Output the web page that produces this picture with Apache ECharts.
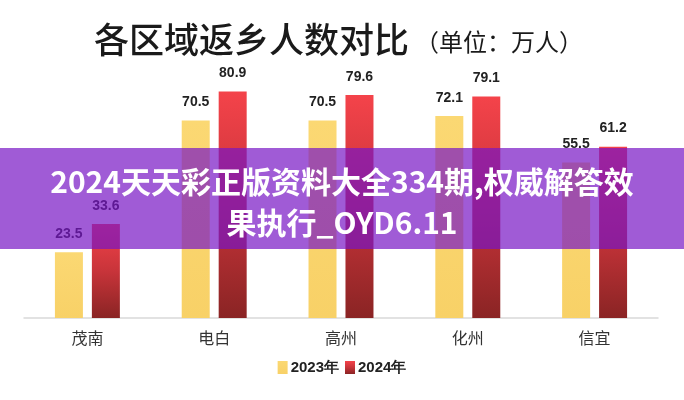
<!DOCTYPE html>
<html>
<head>
<meta charset="utf-8">
<script src="https://cdn.jsdelivr.net/npm/echarts@6/dist/echarts.min.js"></script>
<style>
html,body{margin:0;padding:0;background:#fff;}
#chart{width:684px;height:400px;}
</style>
</head>
<body>
<div id="chart"></div>
<script>
const categories = ['茂南', '电白', '高州', '化州', '信宜'];
const values2023 = [23.5, 70.5, 70.5, 72.1, 55.5];
const values2024 = [33.6, 80.9, 79.6, 79.1, 61.2];
const seriesNames = ['2023年', '2024年'];
const titleMain = '各区域返乡人数对比';
const titleUnit = '（单位：万人）';
const bannerText = '2024天天彩正版资料大全334期,权威解答效\n果执行_OYD6.11';

const chart = echarts.init(document.getElementById('chart'), null, {renderer: 'canvas'});
const labelStyle = {
  show: true,
  position: 'top',
  distance: 11,
  fontFamily: 'Liberation Sans, Arial, sans-serif',
  fontWeight: 'bold',
  fontSize: 14,
  color: '#222'
};
chart.setOption({
  animation: false,
  backgroundColor: '#fff',
  title: {
    text: '{a|' + titleMain + '}{b|' + titleUnit + '}',
    left: 89,
    top: 17,
    textStyle: {
      rich: {
        a: {fontFamily: 'Noto Sans CJK SC', fontSize: 35, color: '#1a1a1a', fontWeight: 500, verticalAlign: 'bottom'},
        b: {fontFamily: 'Noto Sans CJK SC', fontSize: 24, color: '#1a1a1a', fontWeight: 'normal', verticalAlign: 'bottom', padding: [0, 0, 3, 6]}
      }
    }
  },
  legend: {
    bottom: 20,
    left: 'center',
    icon: 'rect',
    itemWidth: 10,
    itemHeight: 13,
    itemGap: 6,
    data: seriesNames,
    textStyle: {
      fontFamily: 'Liberation Sans, Arial, sans-serif',
      fontSize: 15,
      fontWeight: 'bold',
      color: '#222',
      padding: [0, 0, 0, -2]
    }
  },
  grid: {left: 24, right: 26, top: 38, bottom: 82, containLabel: false},
  xAxis: {
    type: 'category',
    data: categories,
    axisLine: {show: true, lineStyle: {color: '#d9d9d9', width: 1.5}},
    axisTick: {show: false},
    axisLabel: {
      fontFamily: 'Noto Sans CJK SC',
      fontSize: 16,
      color: '#333',
      margin: 12
    }
  },
  yAxis: {
    type: 'value',
    min: 0,
    max: 100,
    show: false,
    splitLine: {show: false}
  },
  series: [
    {
      name: seriesNames[0],
      type: 'bar',
      data: values2023,
      barWidth: 28,
      barGap: '32%',
      itemStyle: {
        color: new echarts.graphic.LinearGradient(0, 0, 0, 1, [
          {offset: 0, color: '#fbd873'},
          {offset: 1, color: '#f8d167'}
        ])
      },
      label: labelStyle
    },
    {
      name: seriesNames[1],
      type: 'bar',
      data: values2024,
      barWidth: 28,
      itemStyle: {
        color: new echarts.graphic.LinearGradient(0, 0, 0, 1, [
          {offset: 0, color: '#f4434a'},
          {offset: 0.5, color: '#c8343a'},
          {offset: 1, color: '#8a2424'}
        ])
      },
      label: labelStyle
    }
  ],
  graphic: [
    {
      type: 'rect',
      z: 100,
      shape: {x: 0, y: 148, width: 684, height: 101},
      style: {fill: 'rgba(120,22,196,0.7)'}
    },
    {
      type: 'text',
      z: 101,
      x: 342,
      y: 202,
      style: {
        text: bannerText,
        fill: '#ffffff',
        fontFamily: 'Noto Sans CJK SC',
        fontWeight: 'bold',
        fontSize: 30,
        lineHeight: 41,
        align: 'center',
        verticalAlign: 'middle'
      }
    }
  ]
});
</script>
</body>
</html>
